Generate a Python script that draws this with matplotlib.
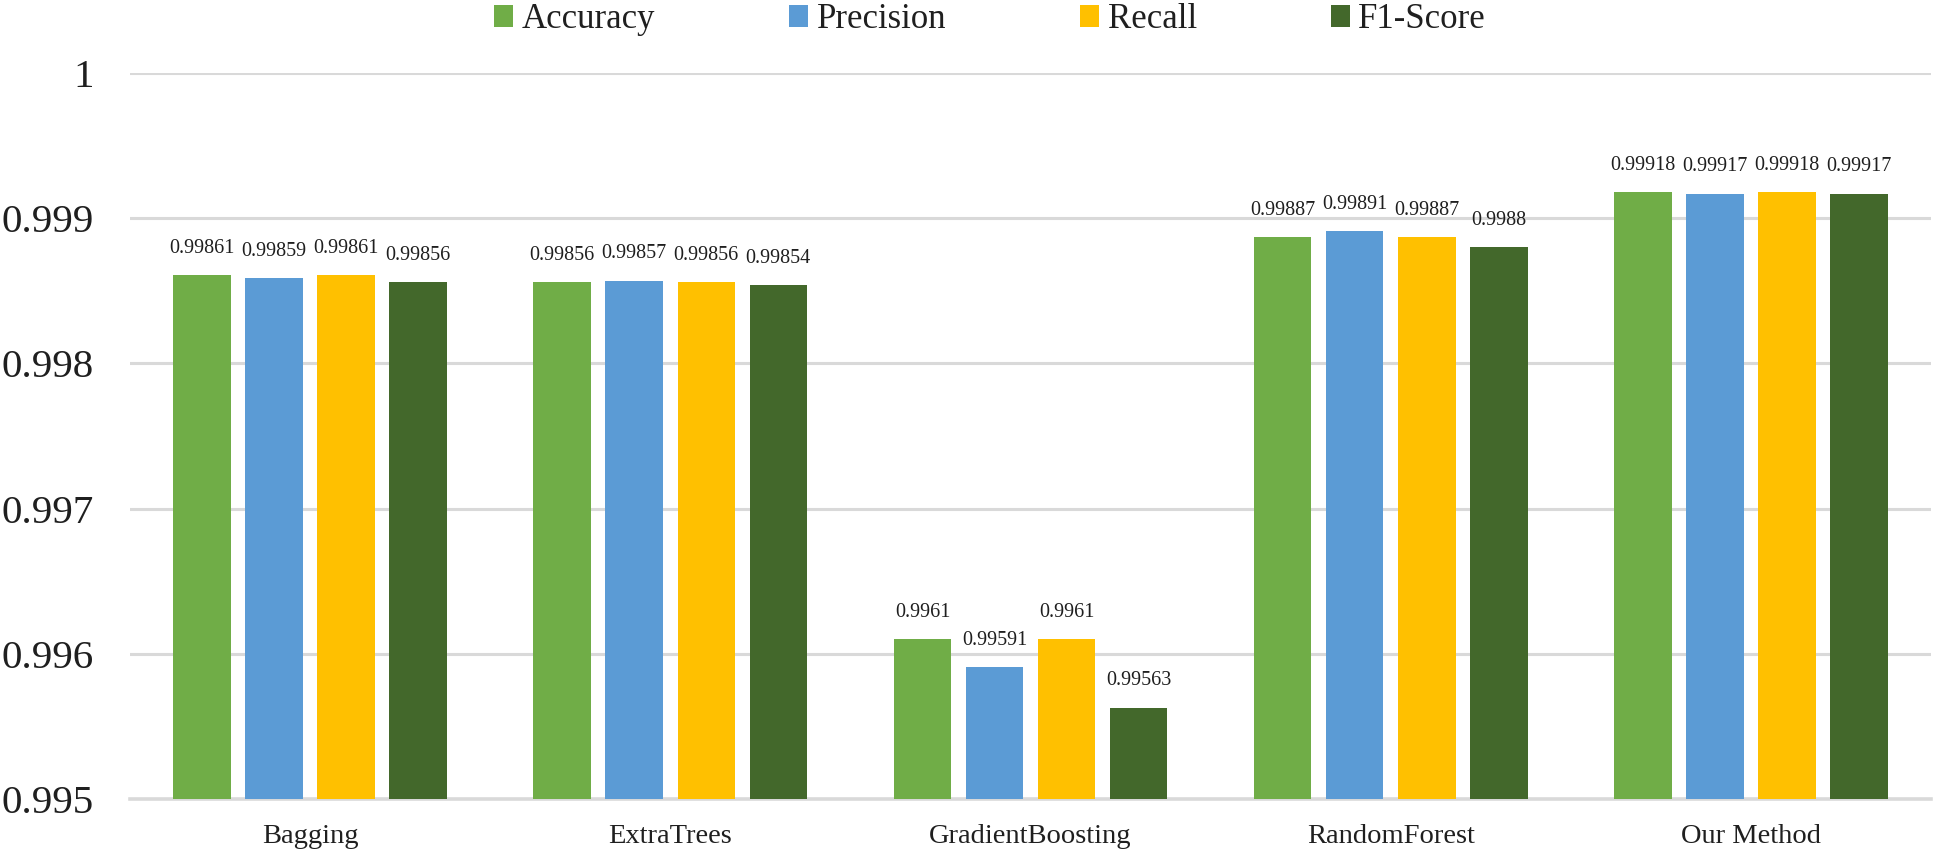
import matplotlib
matplotlib.use("Agg")
import matplotlib.pyplot as plt
import numpy as np

categories = ["Bagging", "ExtraTrees", "GradientBoosting", "RandomForest", "Our Method"]
series_names = ["Accuracy", "Precision", "Recall", "F1-Score"]
accuracy = [0.99861, 0.99856, 0.9961, 0.99887, 0.99918]
precision = [0.99859, 0.99857, 0.99591, 0.99891, 0.99917]
recall = [0.99861, 0.99856, 0.9961, 0.99887, 0.99918]
f1_score = [0.99856, 0.99854, 0.99563, 0.9988, 0.99917]
yticks = [0.995, 0.996, 0.997, 0.998, 0.999, 1.0]
ytick_labels = ["0.995", "0.996", "0.997", "0.998", "0.999", "1"]

colors = ["#70AD47", "#5B9BD5", "#FFC000", "#43682B"]
text_color = "#1f1f1f"
grid_color = "#d9d9d9"

plt.rcParams["font.family"] = ["Liberation Serif", "DejaVu Serif"]

fig = plt.figure(figsize=(19.35, 8.5), dpi=100)
ax = fig.add_axes([130 / 1935, 1 - 799 / 850, (1931 - 130) / 1935, (799 - 73) / 850])

x = np.arange(len(categories))
width = 0.16
offsets = [-0.3, -0.1, 0.1, 0.3]
all_series = [accuracy, precision, recall, f1_score]

for vals, name, col, off in zip(all_series, series_names, colors, offsets):
    ax.bar(x + off, vals, width, color=col, label=name, zorder=3)
    for xi, v in zip(x + off, vals):
        ax.annotate("{:g}".format(v), xy=(xi, v), xytext=(0, 16), textcoords="offset points",
                    ha="center", va="baseline", fontsize=14.5, color=text_color, zorder=4)

ax.set_xlim(-0.5, len(categories) - 0.5)
ax.set_ylim(0.995, 1.0)
ax.set_yticks(yticks)
ax.set_yticklabels(ytick_labels, fontsize=29.5, color=text_color)
ax.set_xticks(x)
ax.set_xticklabels(categories, fontsize=20.5, color=text_color)
ax.tick_params(axis="y", length=0, pad=26)
ax.tick_params(axis="x", length=0, pad=18)

ax.yaxis.grid(True, color=grid_color, linewidth=2.2, zorder=0)
ax.set_axisbelow(True)
for s in ["top", "right", "left"]:
    ax.spines[s].set_visible(False)
ax.spines["bottom"].set_color(grid_color)
ax.spines["bottom"].set_linewidth(2.6)
ax.spines["bottom"].set_zorder(2)

handles, labels = ax.get_legend_handles_labels()
fig.legend(handles, labels, loc="center", bbox_to_anchor=(990 / 1935, 1 - 20 / 850),
           ncol=4, frameon=False, fontsize=25, handlelength=0.55, handleheight=0.58,
           handletextpad=0.25, columnspacing=3.85, borderpad=0, labelcolor=text_color)

fig.savefig("out.png", dpi=100)
